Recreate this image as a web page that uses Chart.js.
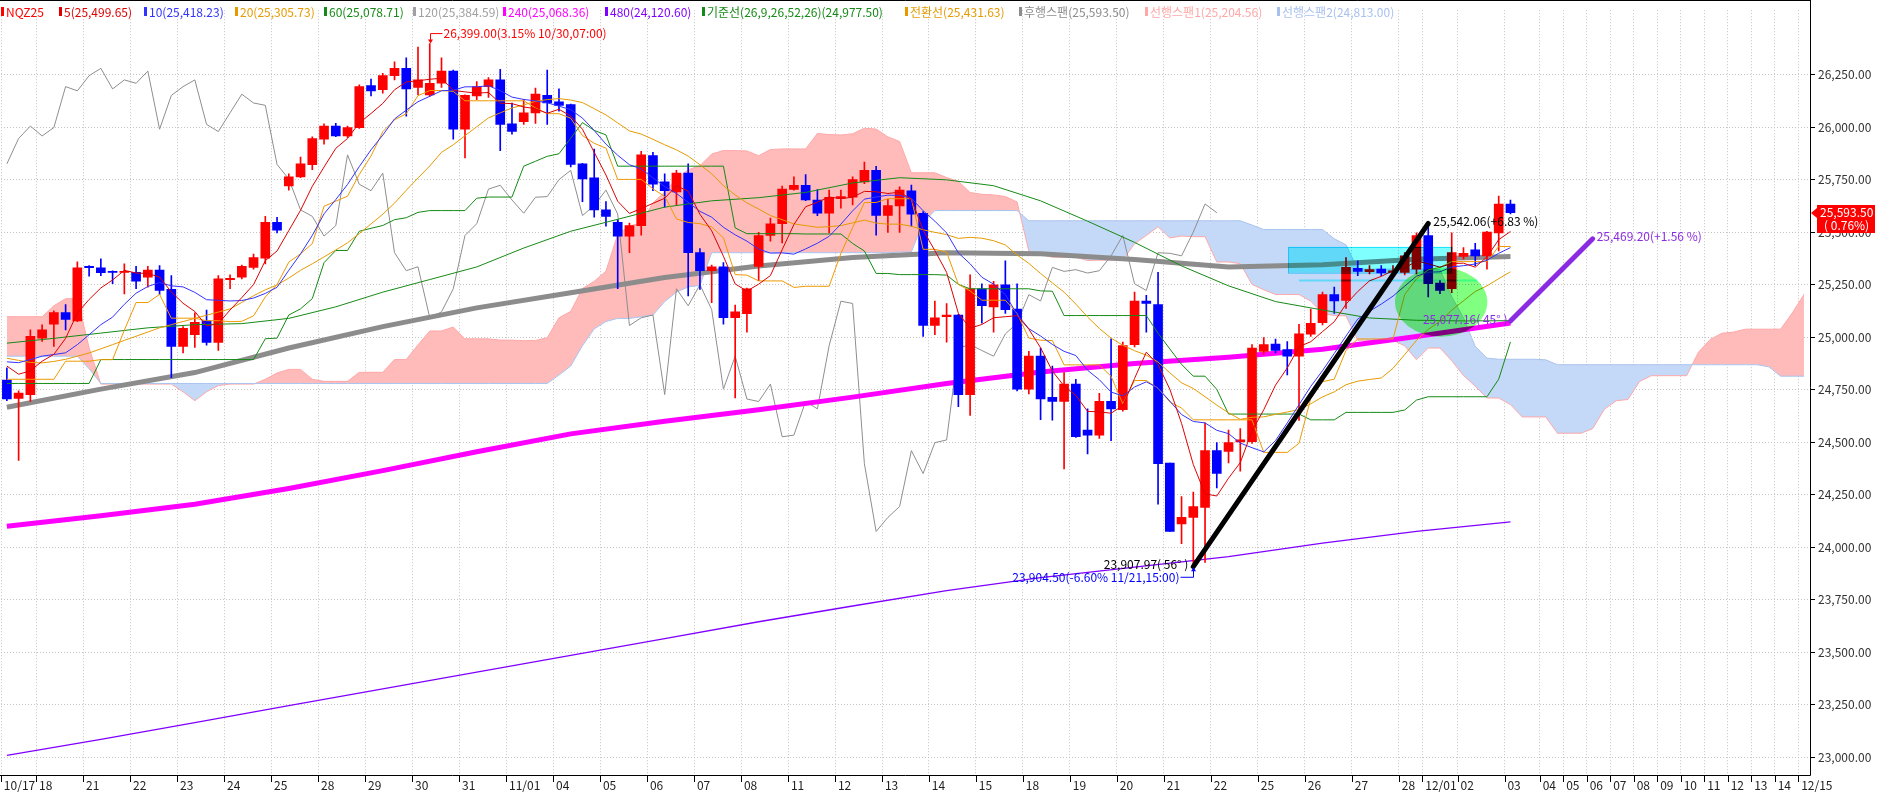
<!DOCTYPE html>
<html><head><meta charset="utf-8">
<script src="https://cdn.jsdelivr.net/npm/chart.js@4.4.1/dist/chart.umd.min.js"></script>
<style>html,body{margin:0;padding:0;background:#fff;overflow:hidden}</style>
</head><body>
<canvas id="c" width="1877" height="793" style="width:1877px;height:793px;display:block"></canvas>
<script>
// ---------- DATA ----------
const days = ['10/17','18','21','22','23','24','25','28','29','30','31','11/01','04','05','06','07','08','11','12','13','14','15','18','19','20','21','22','25','26','27','28','12/01','02','03','04','05','06','07','08','09','10','11','12','13','14','12/15'];
const barsPerDay = [3,4,4,4,4,4,4,4,4,4,4,4,4,4,4,4,4,4,4,4,4,4,4,4,4,4,4,4,4,4,2,3,4,3,2,2,2,2,2,2,2,2,2,2,2,1];

const opens = [24796,24709,24727,24996,25063,25118,25078,25338,25331,25312,
25309,25309,25286,25320,25228,24957,25012,25078,24976,25275,
25286,25333,25377,25547,25721,25764,25822,25944,26006,25959,
25999,26199,26179,26246,26281,26190,26155,26210,26268,25991,
26150,26194,26226,26017,26027,26069,26152,26121,26108,25826,
25759,25607,25547,25482,25532,25866,25740,25693,25782,25403,
25317,25336,25093,25112,25338,25485,25541,25704,25724,25654,
25591,25662,25667,25740,25795,25580,25626,25698,25591,25056,
25098,25106,24727,25231,25145,25250,25134,24753,24910,24714,
24694,24777,24558,24534,24695,24655,24965,25172,25156,24401,
24111,24142,24189,24460,24456,24501,24503,24933,24968,24941,
24910,25015,25070,25203,25176,25328,25312,25325,25309,25309,
25325,25485,25258,25231,25385,25416,25388,25497,25635];
const highs = [24855,24745,25035,25059,25126,25156,25359,25341,25374,25317,
25350,25338,25338,25341,25294,25051,25117,25129,25294,25297,
25344,25396,25576,25571,25779,25858,25955,26017,26019,26006,
26202,26230,26257,26312,26331,26382,26399,26331,26273,26155,
26218,26237,26276,26116,26132,26187,26273,26183,26111,25829,
25897,25646,25560,25544,25886,25881,25779,25795,25826,25422,
25344,25356,25153,25234,25500,25568,25720,25764,25775,25704,
25701,25701,25764,25834,25814,25657,25717,25725,25599,25172,
25161,25109,25297,25255,25266,25364,25255,24933,24949,24863,
24832,24800,24659,24733,24993,24977,25215,25200,25309,24401,
24241,24263,24592,24498,24558,24565,24965,24999,24991,24980,
25062,25134,25215,25239,25380,25364,25341,25341,25341,25403,
25497,25529,25270,25497,25427,25447,25505,25673,25654];
const lows = [24698,24413,24694,24980,24957,25035,25074,25291,25294,25255,
25206,25231,25239,25204,24808,24926,24952,24962,24937,25231,
25278,25325,25349,25497,25701,25760,25798,25920,25956,25952,
25995,26150,26163,26226,26053,26155,26147,26190,25944,25854,
26132,26143,25889,25967,26014,26019,26014,26077,25811,25646,
25572,25529,25231,25403,25486,25698,25620,25630,25197,25228,
25165,25062,24711,25024,25270,25458,25450,25701,25651,25579,
25497,25615,25630,25732,25486,25500,25500,25529,25004,25012,
24977,24670,24628,25067,25024,25114,24745,24730,24608,24605,
24373,24523,24445,24518,24507,24648,24954,25024,24205,24075,
24017,23904.5,23928,24283,24401,24362,24495,24918,24926,24821,
24604,25004,25059,25114,25137,25294,25302,25294,25294,25297,
25302,25192,25208,25212,25372,25341,25325,25411,25588];
const closes = [24706,24734,25004,25035,25118,25085,25331,25331,25308,25309,
25314,25267,25320,25223,24957,25043,25071,24976,25278,25281,
25338,25380,25547,25510,25764,25826,25947,26006,25959,25999,
26194,26174,26246,26281,26183,26226,26210,26268,25991,26152,
26194,26226,26014,25980,26069,26158,26116,26105,25823,25754,
25607,25576,25482,25532,25869,25729,25698,25782,25403,25317,
25336,25093,25121,25231,25485,25541,25706,25724,25654,25591,
25667,25670,25751,25795,25580,25627,25701,25587,25056,25093,
25106,24727,25231,25150,25250,25132,24753,24910,24706,24694,
24777,24526,24534,24695,24659,24960,25172,25161,24398,24075,
24142,24194,24460,24351,24498,24511,24949,24965,24937,24910,
25016,25067,25203,25173,25333,25314,25322,25306,25317,25388,
25485,25255,25223,25403,25400,25388,25501,25635,25593.5];

const ma5 = [24863,24824,24840,24886,24919,24995,25115,25180,25235,25273,
25319,25306,25304,25287,25216,25162,25123,25054,25065,25130,
25189,25251,25365,25411,25508,25605,25719,25811,25900,25947,
26021,26066,26114,26179,26216,26222,26229,26234,26176,26169,
26163,26166,26115,26113,26097,26089,26067,26086,26054,25991,
25881,25773,25648,25590,25613,25638,25662,25722,25696,25586,
25507,25386,25254,25220,25253,25294,25417,25537,25622,25643,
25668,25661,25667,25695,25693,25685,25691,25658,25510,25413,
25309,25114,25043,25061,25093,25098,25103,25039,24950,24839,
24768,24723,24647,24645,24638,24675,24804,24929,24870,24753,
24590,24394,24254,24244,24329,24403,24554,24655,24772,24854,
24955,24979,25027,25074,25158,25218,25269,25290,25318,25329,
25364,25350,25334,25351,25353,25334,25383,25465,25504];
const ma10 = [24883,24879,24894,24910,24918,24926,24965,25012,25060,25096,
25157,25210,25242,25261,25245,25240,25214,25179,25176,25173,
25175,25187,25209,25238,25319,25397,25485,25588,25656,25728,
25813,25893,25963,26040,26082,26122,26148,26174,26177,26193,
26193,26198,26175,26144,26133,26126,26117,26101,26084,26044,
25985,25920,25867,25822,25802,25759,25718,25685,25643,25600,
25572,25524,25488,25458,25420,25401,25402,25396,25421,25448,
25481,25539,25602,25658,25668,25677,25676,25662,25603,25553,
25497,25402,25350,25286,25253,25203,25109,25041,25006,24966,
24933,24913,24843,24798,24739,24721,24763,24788,24758,24696,
24632,24599,24592,24557,24541,24496,24474,24454,24508,24592,
24679,24766,24841,24923,25006,25087,25124,25158,25196,25244,
25291,25310,25312,25335,25341,25349,25367,25400,25427];
const ma20 = [24900,24890,24880,24878,24885,24895,24910,24925,24945,24965,
24985,25005,25025,25045,25060,25075,25090,25105,25120,25135,
25166,25198,25226,25249,25282,25319,25350,25383,25416,25450,
25494,25540,25586,25639,25700,25759,25816,25881,25917,25960,
26003,26045,26069,26092,26107,26124,26132,26137,26130,26118,
26089,26059,26021,25983,25968,25943,25917,25893,25863,25822,
25779,25722,25678,25640,25611,25580,25560,25540,25532,25524,
25527,25532,25545,25558,25544,25539,25539,25529,25512,25500,
25489,25471,25476,25472,25460,25440,25392,25352,25304,25259,
25215,25158,25097,25042,24996,24962,24936,24915,24882,24831,
24783,24756,24717,24677,24640,24609,24619,24621,24633,24644,
24656,24683,24716,24740,24774,24791,24799,24806,24852,24918,
24985,25038,25076,25129,25174,25218,25245,25279,25312];
// sampled every 4 / 8 bars
const ma60Every4 = [24972,24995,25020,25045,25060,25065,25090,25145,25215,25275,25335,25425,25505,25562,25620,25650,25665,25690,25735,25760,25750,25722,25650,25553,25452,25340,25245,25170,25130,25092,25081,25078,25079];
const ma120Every8 = [24667,24753,24832,24949,25051,25140,25212,25285,25340,25380,25403,25398,25370,25335,25345,25372,25385];
const ma240Every8 = [24100,24150,24205,24280,24365,24455,24540,24600,24655,24715,24780,24835,24875,24905,24943,25004,25068];
const ma480Every8 = [23008,23085,23165,23245,23325,23405,23485,23565,23645,23720,23793,23855,23905,23955,24020,24075,24121];

const tenkan = [24800,24800,24800,24800,24800,24886,24886,24886,24893.5,24893.5,
25034,25165.5,25165.5,25204.5,25091,25091,25091,25079,25079,25074.5,
25076,25102,25192,25251,25358,25397.5,25446,25624,25648.5,25672,
25775.5,25863.5,25979,26036,26064.5,26151,26175.5,26175.5,26171.5,26126.5,
26126.5,26126.5,26126.5,26126.5,26126.5,26092.5,26065,26065,26043.5,25961,
25924,25901,25752,25752,25752,25707,25671,25564,25547,25541.5,
25525.5,25474,25298.5,25296,25268.5,25268.5,25268.5,25237.5,25243,25243,
25243,25399.5,25522.5,25642,25642,25660,25660,25660,25419,25419,
25405.5,25252,25221,25176.5,25176.5,25176.5,25113.5,24996,24986,24984.5,
24868.5,24868.5,24868.5,24868.5,24814,24683,24794,24794,24757,24692,
24663,24606.75,24606.75,24606.75,24606.75,24606.75,24606.75,24451.75,24451.75,24451.75,
24495,24708.5,24788.5,24800.5,24937.5,24992,24992,24992,24992,25203.5,
25278,25321.5,25333,25360.5,25360.5,25360.5,25360.5,25432.5,25432.5];
const kijun = [24780,24780,24780,24780,24780,24780,24780,24780,24894,24894,
24894,24894,24894,24894,24894,24894,24894,24894,24894,24894,
24894,24894,24993,24996,25106,25135.5,25184,25355.5,25413.5,25413.5,
25505,25519,25532.5,25560,25569.5,25595,25603.5,25603.5,25603.5,25603.5,
25662.5,25668,25668,25668,25815,25838.5,25862,25874,25948,26022.5,
25985.5,25964,25815,25815,25815,25815,25815,25815,25815,25815,
25815,25815,25521,25493.5,25493.5,25493.5,25493.5,25493.5,25492,25492,
25492,25492,25447,25411,25304,25304,25298.5,25298.5,25298.5,25298.5,
25296,25252,25231,25231,25231,25231,25231,25231,25221,25219.5,
25103.5,25103.5,25103.5,25103.5,25103.5,25103.5,25103.5,25103.5,25019.5,24944.5,
24871,24814.75,24814.75,24751.75,24634.25,24634.25,24634.25,24634.25,24634.25,24634.25,
24634.25,24606.75,24606.75,24606.75,24642.25,24642.25,24642.25,24642.25,24642.25,24653.75,
24700.75,24716.75,24716.75,24716.75,24716.75,24716.75,24716.75,24800.5,24978];
const spanA = [25098,25098,25098,25098,25150,25184,25184,24950,24777,24777,
24777,24777,24777,24777,24777,24740,24698,24740,24770,24777,
24777,24777,24800,24830,24847,24847,24800,24790,24790,24790,
24833,24833,24833,24894,24894,24964,25030,25030,25049,24992.5,
24992.5,24992.5,24986.5,24986.5,24984,24985,24998,25092.5,25123.5,25232,
25266.5,25315,25489.75,25531,25542.75,25640.25,25691.25,25755.75,25798,25817,
25873,25889.5,25889.5,25887.5,25865,25894.5,25897.25,25897.25,25897.25,25970.75,
25965.5,25963.5,25969.5,25995.75,25991.75,25954.75,25932.5,25783.5,25783.5,25783.5,
25761,25743,25689.5,25681,25678.25,25670.25,25644.5,25409.75,25394.75,25381,
25381,25381,25365.5,25367.5,25367.5,25367.5,25445.75,25484.75,25526.5,25473,
25482,25479.25,25479.25,25358.75,25358.75,25350.75,25252,25226,25203.75,25203.75,
25203.75,25172.25,25113.5,25103.5,25102,24986,24986,24986,24986,24958.75,
24893.25,24948.75,24948.75,24888.25,24818.25,24767,24710.75,24710.75,24679.25,24620.5,
24620.5,24620.5,24543,24543,24543,24564.6,24657.6,24697.6,24703.6,24789.9,
24817.1,24817.1,24817.1,24817.1,24928.6,24989.4,25019.1,25024.9,25038.6,25038.6,
25038.6,25038.6,25116.5,25205.25];
const spanB = [24910,24910,24910,24910,24910,24910,24910,24850,24780,24780,
24780,24780,24780,24780,24780,24780,24780,24780,24780,24780,
24780,24780,24780,24780,24780,24780,24780,24780,24780,24780,
24780,24780,24780,24780,24780,24780,24780,24780,24780,24780,
24780,24780,24780,24780,24780,24780,24780,24820,24863,24960,
25040,25075,25090,25090,25098,25106,25170,25215,25240,25247,
25403,25403,25403,25403,25403,25403,25403,25403,25403,25403,
25403,25403,25403,25403,25403,25403,25406,25406,25546.5,25603.5,
25603.5,25603.5,25603.5,25603.5,25603.5,25603.5,25603.5,25555,25555,25555,
25555,25555,25555,25555,25555,25555,25555,25555,25555,25555,
25555,25555,25555,25555,25555,25555,25534.5,25513.5,25513.5,25513.5,
25513.5,25513.5,25513.5,25469.5,25440.5,25324.5,25324.5,25324.5,25324.5,25323,
25323,25323,25323,25194,25093,24957,24900.75,24895.25,24895.25,24895.25,
24895.25,24892.75,24869.25,24869.25,24869.25,24869.25,24869.25,24869.25,24869.25,24869.25,
24869.25,24869.25,24869.25,24869.25,24869.25,24869.25,24869.25,24869.25,24869.25,24869.25,
24859.25,24814.75,24814.75,24814.75];
const laggingShift = 25;

const yTicks = [23000,23250,23500,23750,24000,24250,24500,24750,25000,25250,25500,25750,26000,26250];

// drawn studies (bar index, price)
const trendBlack = [[101, 23907.97], [121, 25542.06]];
const trendPurple = [[128, 25077.16], [135, 25469.20]];
const highNote = {bar: 36, price: 26399, text: '26,399.00(3.15% 10/30,07:00)'};
const lowNote = {bar: 101, price: 23904.5, text: '23,904.50(-6.60% 11/21,15:00)'};
const blackLabels = ['23,907.97( 56° )', '25,542.06(+6.83 %)'];
const purpleLabels = ['25,077.16( 45° )', '25,469.20(+1.56 %)'];
const boxZone = {bar1: 109.1, bar2: 123.0, p1: 25431, p2: 25309, lineP: 25270, lineBar1: 110.0, lineBar2: 125.2};
const ellipseZone = {bar: 122.1, price: 25168, rBars: 3.93, rPrice: 165};
const lastPrice = {text: '25,593.50', pct: '( 0.76%)'};

const legendItems = [
  ['NQZ25', '#FF0000'], ['5(25,499.65)', '#E00000'], ['10(25,418.23)', '#3333FF'],
  ['20(25,305.73)', '#E69A00'], ['60(25,078.71)', '#168A16'], ['120(25,384.59)', '#A0A0A0'],
  ['240(25,068.36)', '#FF00FF'], ['480(24,120.60)', '#8000FF'], ['기준선(26,9,26,52,26)(24,977.50)', '#168A16'],
  ['전환선(25,431.63)', '#E69A00'], ['후행스팬(25,593.50)', '#8C8C8C'], ['선행스팬1(25,204.56)', '#FFA8A8'],
  ['선행스팬2(24,813.00)', '#A8C0F0']
];
const legendX = [1, 59, 144, 235, 324, 413, 503, 605, 702, 905, 1019, 1145, 1277];

// ---------- build library tables ----------
const FONT = "'Noto Sans CJK KR','Noto Sans',sans-serif";
const labels = [], dayStart = [];
days.forEach((d, k) => { for (let j = 0; j < barsPerDay[k]; j++) { labels.push(d); dayStart.push(j === 0); } });
const N = labels.length;
function spread(vals, step) { const out = new Array(closes.length).fill(null); vals.forEach((v, i) => { out[i * step] = v; }); return out; }
function seg(pts) { const out = new Array(N).fill(null); pts.forEach(p => { out[p[0]] = p[1]; }); return out; }
const bodyData = opens.map((o, i) => [o, closes[i]]);
const wickData = lows.map((l, i) => [l, highs[i]]);
const cColors = opens.map((o, i) => closes[i] >= o ? '#FF0000' : '#0000FF');
const lagging = closes.slice(laggingShift);

function lineDs(label, data, color, width, order, extra) {
  return Object.assign({type: 'line', label, data, borderColor: color, backgroundColor: color, borderWidth: width,
    pointRadius: 0, tension: 0, fill: false, order, spanGaps: true}, extra || {});
}

const datasets = [
  lineDs('선행스팬1', spanA, '#FFA8A8', 1, 100, {fill: {target: 1, above: 'rgb(255,186,186)', below: 'rgb(196,216,248)'}}),
  lineDs('선행스팬2', spanB, '#A8C4F0', 1, 99),
  lineDs('후행스팬', lagging, '#8E8E8E', 1, 90),
  lineDs('480', spread(ma480Every8, 8), '#8000FF', 1.3, 80),
  lineDs('240', spread(ma240Every8, 8), '#FF00FF', 5, 79),
  lineDs('120', spread(ma120Every8, 8), '#8C8C8C', 5, 78),
  {type: 'bar', label: 'wick', data: wickData, backgroundColor: cColors, borderWidth: 0, barThickness: 1, grouped: false, order: 60},
  {type: 'bar', label: 'body', data: bodyData, backgroundColor: cColors, borderWidth: 0, barThickness: 9, grouped: false, minBarLength: 1, order: 59},
  lineDs('60', spread(ma60Every4, 4), '#168A16', 1, 50),
  lineDs('기준선', kijun, '#168A16', 1, 49),
  lineDs('20', ma20, '#E69A00', 1, 48),
  lineDs('전환선', tenkan, '#EE9900', 1, 47),
  lineDs('10', ma10, '#3333FF', 1, 46),
  lineDs('5', ma5, '#DD0000', 1, 45),
  lineDs('trendPurple', seg(trendPurple), '#8A2BE2', 5, 20, {borderCapStyle: 'round'}),
  lineDs('trendBlack', seg(trendBlack), '#000000', 5, 19, {borderCapStyle: 'round'})
];

const overlay = {
  id: 'overlay',
  afterDatasetsDraw(chart) {
    const {ctx, chartArea: a, scales: {x, y}} = chart;
    ctx.save();
    ctx.beginPath(); ctx.rect(a.left, a.top, a.right - a.left, a.bottom - a.top); ctx.clip();
    // multiply-blended study shapes
    ctx.globalCompositeOperation = 'multiply';
    const bx1 = x.getPixelForValue(boxZone.bar1), bx2 = x.getPixelForValue(boxZone.bar2);
    const by1 = y.getPixelForValue(boxZone.p1), by2 = y.getPixelForValue(boxZone.p2);
    ctx.fillStyle = 'rgb(128,255,255)';
    ctx.fillRect(bx1, by1, bx2 - bx1, by2 - by1);
    ctx.strokeStyle = 'rgb(60,230,255)'; ctx.lineWidth = 1;
    ctx.strokeRect(Math.round(bx1) + 0.5, Math.round(by1) + 0.5, bx2 - bx1, by2 - by1);
    const ly = y.getPixelForValue(boxZone.lineP);
    ctx.strokeStyle = 'rgb(128,255,255)'; ctx.lineWidth = 2;
    ctx.beginPath(); ctx.moveTo(x.getPixelForValue(boxZone.lineBar1), ly); ctx.lineTo(x.getPixelForValue(boxZone.lineBar2), ly); ctx.stroke();
    const ex = x.getPixelForValue(ellipseZone.bar), ey = y.getPixelForValue(ellipseZone.price);
    const rx = x.getPixelForValue(ellipseZone.bar + ellipseZone.rBars) - ex;
    const ry = y.getPixelForValue(ellipseZone.price - ellipseZone.rPrice) - ey;
    ctx.fillStyle = 'rgb(128,255,128)';
    ctx.beginPath(); ctx.ellipse(ex, ey, rx, ry, 0, 0, Math.PI * 2); ctx.fill();
    ctx.globalCompositeOperation = 'source-over';
    ctx.restore();

    ctx.save();
    ctx.font = '12px ' + FONT; ctx.textBaseline = 'middle';
    // high note
    let hx = Math.round(x.getPixelForValue(highNote.bar)) + 0.5, hy = y.getPixelForValue(highNote.price);
    ctx.strokeStyle = ctx.fillStyle = '#FF0000'; ctx.lineWidth = 1;
    ctx.beginPath(); ctx.moveTo(hx, hy - 3); ctx.lineTo(hx, hy - 10); ctx.lineTo(hx + 12, hy - 10); ctx.stroke();
    ctx.beginPath(); ctx.moveTo(hx - 2.5, hy - 4); ctx.lineTo(hx + 2.5, hy - 4); ctx.lineTo(hx, hy); ctx.fill();
    ctx.textAlign = 'left'; ctx.fillText(highNote.text, hx + 13, hy - 10);
    // low note
    let lx = Math.round(x.getPixelForValue(lowNote.bar)) + 0.5, lyy = y.getPixelForValue(lowNote.price);
    ctx.strokeStyle = ctx.fillStyle = '#0000FF';
    ctx.beginPath(); ctx.moveTo(lx, lyy + 3); ctx.lineTo(lx, lyy + 10); ctx.lineTo(lx - 13, lyy + 10); ctx.stroke();
    ctx.beginPath(); ctx.moveTo(lx - 2.5, lyy + 4); ctx.lineTo(lx + 2.5, lyy + 4); ctx.lineTo(lx, lyy); ctx.fill();
    ctx.textAlign = 'right'; ctx.fillText(lowNote.text, lx - 14, lyy + 10);
    // trend labels
    ctx.fillStyle = '#000';
    let sx = x.getPixelForValue(trendBlack[0][0]), sy = y.getPixelForValue(trendBlack[0][1]);
    ctx.textAlign = 'right'; ctx.fillText(blackLabels[0], sx - 5, sy - 2);
    let tx = x.getPixelForValue(trendBlack[1][0]), ty = y.getPixelForValue(trendBlack[1][1]);
    ctx.textAlign = 'left'; ctx.fillText(blackLabels[1], tx + 5, ty - 2);
    ctx.fillStyle = '#8A2BE2';
    sx = x.getPixelForValue(trendPurple[0][0]); sy = y.getPixelForValue(trendPurple[0][1]);
    ctx.textAlign = 'right'; ctx.fillText(purpleLabels[0], sx - 3, sy - 2);
    tx = x.getPixelForValue(trendPurple[1][0]); ty = y.getPixelForValue(trendPurple[1][1]);
    ctx.textAlign = 'left'; ctx.fillText(purpleLabels[1], tx + 4, ty - 2);
    ctx.restore();
  },
  afterDraw(chart) {
    const {ctx, chartArea: a, scales: {x, y}} = chart;
    ctx.save();
    // frame
    ctx.strokeStyle = '#000'; ctx.lineWidth = 1;
    ctx.beginPath();
    ctx.moveTo(0, 0.5); ctx.lineTo(a.right + 0.5, 0.5);
    ctx.moveTo(a.right + 0.5, 0); ctx.lineTo(a.right + 0.5, a.bottom + 0.5);
    ctx.moveTo(0, a.bottom + 0.5); ctx.lineTo(a.right + 0.5, a.bottom + 0.5);
    ctx.stroke();
    // x tick marks at day starts
    const w = (a.right - a.left) / N;
    ctx.beginPath();
    dayStart.forEach((s, i) => { if (s) { const px = Math.round(x.getPixelForValue(i) - w / 2) + 0.5; ctx.moveTo(px, a.bottom); ctx.lineTo(px, a.bottom + 7); } });
    ctx.stroke();
    // legend
    ctx.font = '12px ' + FONT; ctx.textBaseline = 'middle'; ctx.textAlign = 'left';
    legendItems.forEach((it, i) => {
      ctx.fillStyle = it[1];
      ctx.fillRect(legendX[i], 7, 3, 9);
      ctx.fillText(it[0], legendX[i] + 5, 12);
    });
    // current price marker
    const py = Math.round(y.getPixelForValue(closes[closes.length - 1]));
    ctx.fillStyle = '#FF0000';
    ctx.beginPath(); ctx.moveTo(a.right + 1, py); ctx.lineTo(a.right + 7, py - 5); ctx.lineTo(a.right + 7, py + 5); ctx.fill();
    ctx.fillRect(a.right + 7, py - 8, 58, 28);
    ctx.fillStyle = '#FFFFFF';
    ctx.fillText(lastPrice.text, a.right + 10, py - 1);
    ctx.fillText(lastPrice.pct, a.right + 14, py + 12);
    ctx.restore();
  }
};

new Chart(document.getElementById('c'), {
  type: 'bar',
  data: {labels, datasets},
  options: {
    responsive: false, maintainAspectRatio: false, animation: false, devicePixelRatio: 1,
    events: [],
    layout: {padding: {left: 1, top: 1, right: 0, bottom: 0}},
    plugins: {legend: {display: false}, tooltip: {enabled: false}},
    scales: {
      x: {
        type: 'category', offset: true,
        grid: {offset: true, drawTicks: false, lineWidth: 1,
          color: c => (c.index !== undefined && dayStart[c.index]) ? '#C4C4C4' : 'rgba(0,0,0,0)'},
        border: {display: false, dash: [1, 2]},
        ticks: {autoSkip: false, maxRotation: 0, minRotation: 0, align: 'start', labelOffset: -3, padding: 3,
          color: '#222', font: {size: 12, family: FONT},
          callback: (v, i) => dayStart[i] ? labels[i] : ''},
        afterFit: s => { s.height = 18; }
      },
      y: {
        type: 'linear', position: 'right', min: 22915, max: 26558,
        afterBuildTicks: s => { s.ticks = yTicks.map(v => ({value: v})); },
        grid: {color: '#C4C4C4', lineWidth: 1, drawTicks: true, tickLength: 5, tickColor: '#000', tickWidth: 1},
        border: {display: false, dash: [1, 2]},
        ticks: {padding: 3, color: '#333', font: {size: 12, family: FONT},
          callback: v => Number(v).toLocaleString('en-US', {minimumFractionDigits: 2, maximumFractionDigits: 2})},
        afterFit: s => { s.width = 67; }
      }
    }
  },
  plugins: [overlay]
});
</script>
</body></html>
